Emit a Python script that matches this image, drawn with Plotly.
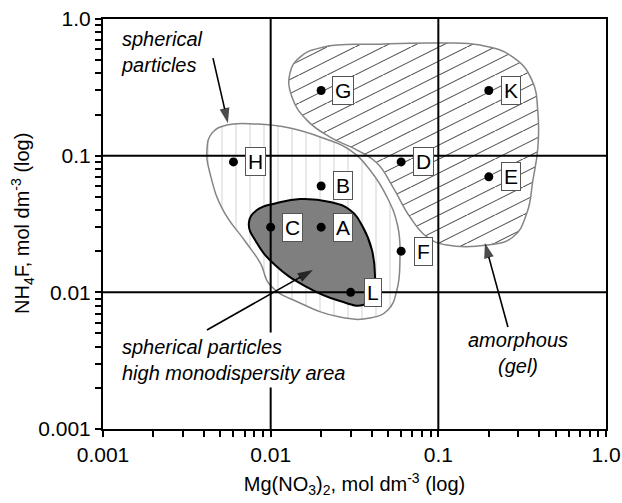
import numpy as np
import plotly.graph_objects as go

# ---- data ----
labels = ["G", "K", "H", "D", "E", "B", "A", "C", "F", "L"]
mg_no3 = [0.02, 0.2, 0.006, 0.06, 0.2, 0.02, 0.02, 0.01, 0.06, 0.03]
nh4f = [0.3, 0.3, 0.09, 0.09, 0.07, 0.06, 0.03, 0.03, 0.02, 0.01]

tick_vals = [0.001, 0.01, 0.1, 1.0]
x_tick_text = ["0.001", "0.01", "0.1", "1.0"]
y_tick_text = ["0.001", "0.01", "0.1", "1.0"]
minor_vals = [m * 10.0 ** e for e in (-3, -2, -1) for m in range(2, 10)]
grid_vals = [0.01, 0.1]

# region outlines, log10 of (Mg(NO3)2, NH4F)
amorph_lx = [-1.885, -1.825, -1.688, -1.348, -1.008, -0.752, -0.555, -0.442, -0.406, -0.406,
             -0.436, -0.472, -0.555, -0.710, -0.949, -1.068, -1.169, -1.271, -1.366, -1.485,
             -1.646, -1.784, -1.873]
amorph_ly = [-0.396, -0.279, -0.206, -0.184, -0.176, -0.191, -0.279, -0.447, -0.688, -0.937,
             -1.179, -1.420, -1.595, -1.654, -1.654, -1.595, -1.449, -1.230, -1.054, -0.959,
             -0.864, -0.740, -0.571]
spher_lx = [-2.350, -2.261, -2.082, -1.885, -1.688, -1.527, -1.408, -1.306, -1.241, -1.229,
            -1.247, -1.301, -1.408, -1.587, -1.825, -2.004, -2.060, -2.150, -2.284, -2.356, -2.380]
spher_ly = [-0.835, -0.776, -0.769, -0.798, -0.871, -0.959, -1.105, -1.303, -1.522, -1.764,
            -1.983, -2.129, -2.188, -2.181, -2.078, -1.947, -1.790, -1.630, -1.398, -1.157, -0.959]
mono_lx = [-2.130, -2.082, -1.962, -1.825, -1.646, -1.527, -1.450, -1.396, -1.378, -1.390,
           -1.450, -1.587, -1.795, -1.974, -2.082]
mono_ly = [-1.493, -1.398, -1.347, -1.317, -1.339, -1.398, -1.522, -1.691, -1.873, -2.034,
           -2.093, -2.064, -1.954, -1.800, -1.639]

# arrows: (tail, head) in log10 units
arrow_tails = [(-2.344, -0.286), (-2.380, -2.276), (-0.585, -2.254)]
arrow_heads = [(-2.255, -0.762), (-1.748, -1.837), (-0.722, -1.639)]


def closed(lx, ly):
    x = [10 ** v for v in lx] + [10 ** lx[0]]
    y = [10 ** v for v in ly] + [10 ** ly[0]]
    return x, y


FONT = "Liberation Sans, Arial, sans-serif"
fig = go.Figure()

sx, sy = closed(spher_lx, spher_ly)
fig.add_trace(go.Scatter(
    x=sx, y=sy, mode="lines", fill="toself", fillcolor="white",
    line=dict(color="#858585", width=1.5, shape="spline", smoothing=1.3),
    fillpattern=dict(shape="|", size=14, solidity=0.08, fgcolor="#b0b0b0", bgcolor="white"),
    hoverinfo="skip", showlegend=False))

ax_, ay_ = closed(amorph_lx, amorph_ly)
fig.add_trace(go.Scatter(
    x=ax_, y=ay_, mode="lines", fill="toself", fillcolor="white",
    line=dict(color="#858585", width=1.5, shape="spline", smoothing=1.3),
    fillpattern=dict(path="M0,13.4 L28,-0.6 L28,0.6 L0,14.6 Z M0,27.4 L28,13.4 L28,14.6 L0,28.6 Z",
                     size=28, fgcolor="#4a4a4a", bgcolor="white", fgopacity=1),
    hoverinfo="skip", showlegend=False))

mx, my = closed(mono_lx, mono_ly)
fig.add_trace(go.Scatter(
    x=mx, y=my, mode="lines", fill="toself", fillcolor="#7f7f7f",
    line=dict(color="black", width=2, shape="spline", smoothing=1.3),
    hoverinfo="skip", showlegend=False))

# heavy reference lines at decades
gx, gy = [], []
for g in grid_vals:
    gx += [tick_vals[0], tick_vals[-1], None, g, g, None]
    gy += [g, g, None, tick_vals[0], tick_vals[-1], None]
fig.add_trace(go.Scatter(x=gx, y=gy, mode="lines", line=dict(color="black", width=2),
                         hoverinfo="skip", showlegend=False))

fig.add_trace(go.Scatter(x=mg_no3, y=nh4f, mode="markers",
                         marker=dict(color="black", size=9),
                         hoverinfo="skip", showlegend=False))

# arrows as lines with arrow-shaped end markers
for (tx, ty), (hx, hy) in zip(arrow_tails, arrow_heads):
    fig.add_trace(go.Scatter(
        x=[10 ** tx, 10 ** hx], y=[10 ** ty, 10 ** hy], mode="lines+markers",
        line=dict(color="black", width=1.6),
        marker=dict(symbol=["circle", "arrow"], size=[0, 16], color="black",
                    angleref="previous", line=dict(width=0)),
        hoverinfo="skip", showlegend=False))

for lab, xv, yv in zip(labels, mg_no3, nh4f):
    fig.add_annotation(x=np.log10(xv), y=np.log10(yv), text=lab, showarrow=False,
                       xshift=22, font=dict(family=FONT, size=21, color="black"),
                       bgcolor="white", bordercolor="#555555", borderwidth=1,
                       borderpad=2)

# text annotations
fig.add_annotation(x=-2.905, y=-0.242, text="<i>spherical<br>particles</i>", showarrow=False,
                   xanchor="left", yanchor="middle", align="left",
                   font=dict(family=FONT, size=20, color="black"))
fig.add_annotation(x=-2.911, y=-2.495, text="<i>spherical particles<br>high monodispersity area</i>",
                   showarrow=False, xanchor="left", yanchor="middle", align="left",
                   bgcolor="white", borderpad=3,
                   font=dict(family=FONT, size=20, color="black"))
fig.add_annotation(x=-0.525, y=-2.444, text="<i>amorphous<br>(gel)</i>", showarrow=False,
                   xanchor="center", yanchor="middle", align="center",
                   font=dict(family=FONT, size=20, color="black"))
# y axis title
fig.add_annotation(xref="paper", yref="paper", x=0, y=0.5, xshift=-81, textangle=-90,
                   text="NH<sub>4</sub>F, mol dm<sup>-3</sup> (log)", showarrow=False,
                   xanchor="center", yanchor="middle",
                   font=dict(family=FONT, size=20, color="black"))

# major decades labelled, minor log positions as unlabelled ticks
all_ticks = tick_vals + minor_vals
axis_common = dict(type="log", range=[-3, 0], tickmode="array", tickvals=all_ticks,
                   ticks="outside", ticklen=6, tickwidth=1.5, tickcolor="black",
                   showline=True, linecolor="black", linewidth=2, mirror=True,
                   showgrid=False, zeroline=False, automargin=False,
                   tickfont=dict(family=FONT, size=21, color="black"))
fig.update_layout(
    xaxis=dict(**axis_common, ticktext=x_tick_text + [""] * len(minor_vals),
               title=dict(text="Mg(NO<sub>3</sub>)<sub>2</sub>, mol dm<sup>-3</sup> (log)",
                          font=dict(family=FONT, size=20, color="black"), standoff=12)),
    yaxis=dict(**axis_common, ticktext=y_tick_text + [""] * len(minor_vals)),
    width=622, height=503, margin=dict(l=103, r=16, t=19, b=74),
    plot_bgcolor="white", paper_bgcolor="white", showlegend=False)

fig.write_html("out.html")
